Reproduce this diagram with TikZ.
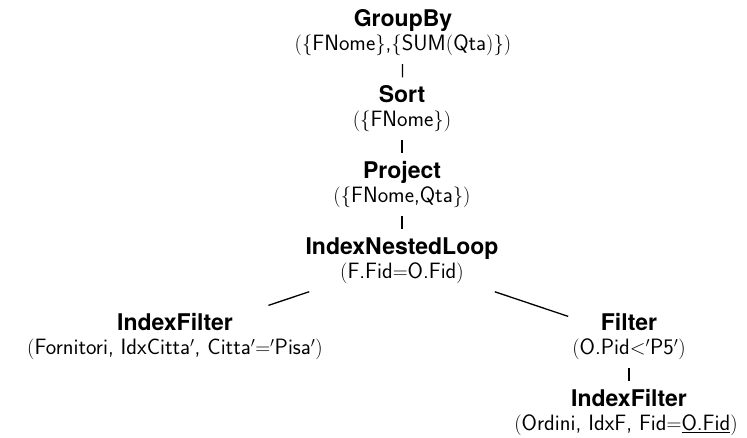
\documentclass[tikz,border=0pt]{standalone}
\usepackage{fontspec}
\newfontfamily\heros{TeX Gyre Heros}
\newcommand{\optitle}[1]{{\heros\bfseries\fontsize{23}{24}\selectfont #1}}
\tikzset{
  opnode/.style={align=center, anchor=north, inner xsep=4pt, inner ysep=8pt,
    font=\fontsize{22.2}{24}\selectfont\sffamily},
  treeedge/.style={draw, line width=1.3pt}
}
\begin{document}
\begin{tikzpicture}[x=1pt, y=-1pt]
\useasboundingbox (0,0) rectangle (747,438);

% operator nodes of the plan
\node[opnode] (gb)  at (403,1.4)   {\optitle{GroupBy}\\$($$\{$FNome$\}$,$\{$SUM$($Qta$)$$\}$$)$};
\node[opnode] (so)  at (402,77.4)  {\optitle{Sort}\\$($$\{$FNome$\}$$)$};
\node[opnode] (pr)  at (402,153.4) {\optitle{Project}\\$($$\{$FNome,Qta$\}$$)$};
\node[opnode] (inl) at (402,229.4) {\optitle{IndexNestedLoop}\\$($F.Fid$=$O.Fid$)$};
\node[opnode] (ifl) at (175,305.4) {\optitle{IndexFilter}\\$($Fornitori, IdxCitta$'$, Citta$'$$=$$'$Pisa$'$$)$};
\node[opnode] (fi)  at (629,305.4) {\optitle{Filter}\\$($O.Pid$<$$'$P5$'$$)$};
\node[opnode] (ifr) at (629,381.4) {\optitle{IndexFilter}\\$($Ordini, IdxF, Fid$=$\underline{O.Fid}$)$\hspace*{6pt}};

% edges of the tree
\path[treeedge] (gb) -- (so);
\path[treeedge] (so) -- (pr);
\path[treeedge] (pr) -- (inl);
\path[treeedge] (inl) -- (ifl);
\path[treeedge] (inl) -- (fi);
\path[treeedge] (fi) -- (ifr);
\end{tikzpicture}
\end{document}
